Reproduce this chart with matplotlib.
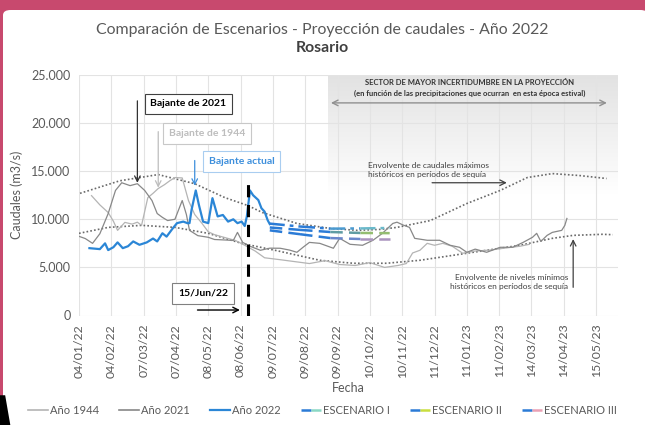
import numpy as np
import matplotlib
matplotlib.use('Agg')
import matplotlib.pyplot as plt
import matplotlib.dates as mdates
from matplotlib.patches import FancyBboxPatch, Polygon
from matplotlib.legend_handler import HandlerTuple
from matplotlib.lines import Line2D
from matplotlib.ticker import FuncFormatter, MultipleLocator
from matplotlib.colors import to_rgb

plt.rcParams['font.family'] = ['Lato', 'DejaVu Sans']

base = np.datetime64('2022-01-04')

# x values are days counted from 04/01/22
d1944 = [12, 20, 28, 33, 37, 44, 51, 56, 60, 66, 71, 76, 82, 87, 92, 99, 105, 111, 118, 124,
         130, 140, 150, 159, 169, 178, 193, 207, 221, 236, 250, 265, 279, 293, 306, 314, 320,
         327, 334, 341, 349, 358, 368, 380, 394, 408, 423, 432]
q1944 = [12460, 11500, 10700, 9800, 8850, 9680, 9500, 9700, 9370, 12250, 12700, 13200, 13600,
         14000, 14340, 14300, 11950, 10500, 9570, 8700, 8400, 8100, 7800, 7300, 6700, 6000,
         5800, 5600, 5400, 5700, 5300, 5200, 5500, 5000, 5200, 5400, 6500, 6780, 7500, 7300,
         7500, 7200, 6470, 6700, 6800, 7000, 7200, 7400]

d2021 = [0, 6, 13, 20, 28, 35, 41, 49, 56, 63, 70, 75, 80, 85, 92, 99, 103, 106, 114, 124, 130,
         140, 148, 152, 157, 164, 174, 183, 193, 202, 209, 215, 221, 231, 244, 250, 260, 272,
         282, 291, 301, 305, 311, 317, 322, 334, 346, 356, 365, 372, 380, 391, 404, 416, 426,
         435, 439, 443, 449, 454, 463, 466, 468]
q2021 = [8230, 8000, 7500, 8500, 10600, 13000, 13800, 13500, 13700, 13000, 11950, 10600, 10200,
         9870, 10000, 11950, 10500, 8850, 8300, 8130, 7900, 7850, 7800, 8640, 7600, 7200, 6780,
         7000, 6990, 6800, 6570, 7100, 7600, 7500, 6990, 8020, 7400, 7300, 7820, 8540, 9570,
         9700, 9400, 9160, 8020, 7820, 7820, 7300, 7090, 6570, 6900, 6570, 7090, 7090, 7600,
         8130, 8540, 7700, 8330, 8640, 8850, 9370, 10090]

d2022 = [10, 15, 20, 25, 28, 33, 37, 42, 47, 52, 58, 65, 71, 75, 80, 84, 90, 94, 100, 104, 106,
         108, 112, 115, 119, 124, 128, 133, 138, 143, 148, 152, 156, 159, 161, 164, 167, 172,
         175, 178, 181, 183]
q2022 = [7000, 6950, 6900, 7500, 6800, 7100, 7600, 7000, 7200, 7700, 7350, 7600, 8000, 7700,
         8550, 8200, 9070, 9600, 9760, 9600, 9600, 11000, 13000, 11500, 9760, 9600, 12200, 10300,
         10450, 9760, 10000, 9600, 9760, 9300, 10300, 13000, 12500, 12000, 11150, 10800, 9900,
         9500]

d_esc = [183, 212, 241, 270, 298]
q_esc1 = [9550, 9250, 9030, 9050, 9100]
q_esc2 = [9150, 8900, 8680, 8580, 8560]
q_esc3 = [8850, 8450, 8050, 7950, 7950]

d_max = [1, 39, 76, 111, 140, 162, 176, 209, 241, 267, 289, 305, 337, 372, 404, 430, 454, 480, 506]
q_max = [12700, 14000, 14650, 13700, 12250, 11430, 10700, 9570, 9050, 8850, 8950, 9160, 9870,
         11640, 13000, 14340, 14750, 14550, 14240]
d_min = [0, 28, 60, 92, 124, 156, 188, 231, 263, 295, 327, 359, 391, 423, 454, 474, 502, 512]
q_min = [8540, 9160, 9370, 9160, 8540, 7500, 6780, 5740, 5430, 5430, 5740, 6260, 6780, 7300,
         8020, 8330, 8440, 8400]

tick_days = np.arange(0, 497, 31)


def dt(days):
    return base + np.array(days).astype('timedelta64[D]')


fig = plt.figure(figsize=(6.45, 4.25), dpi=100, facecolor='#c8496e')
fig.patches.append(FancyBboxPatch((3 / 645, -0.05), 1.0, 1 - 10 / 425 + 0.05,
                                  boxstyle='round,pad=0,rounding_size=0.012',
                                  transform=fig.transFigure, facecolor='white',
                                  edgecolor='none', zorder=-5))
fig.patches.append(Polygon([(0, 0), (0.016, 0), (0.008, 0.07), (0, 0.07)],
                           closed=True, transform=fig.transFigure, facecolor='black',
                           edgecolor='none', zorder=-4))
ax = fig.add_axes([79 / 645, 1 - 315.5 / 425, (618 - 79) / 645, (315.5 - 75) / 425])
ax.set_facecolor('none')

x0, x1 = mdates.date2num(dt(0)), mdates.date2num(dt(517))
ax.set_xlim(dt(0), dt(517))
ax.set_ylim(0, 25000)

# shaded uncertainty sector
grad = np.linspace(0, 1, 100).reshape(-1, 1)
ax.imshow(grad, extent=[mdates.date2num(dt(239)), x1, 12500, 25000], aspect='auto',
          cmap=matplotlib.colors.LinearSegmentedColormap.from_list('g', ['white', '#e2e2e2']),
          origin='lower', zorder=0)

ax.grid(True, color='#e3e3e3', lw=0.8, zorder=1)
ax.set_axisbelow(True)
for s in ax.spines.values():
    s.set_visible(False)

ax.plot(dt(d_max), q_max, ls=(0, (1, 1.3)), color='#6a6a6a', lw=1.2, zorder=2)
ax.plot(dt(d_min), q_min, ls=(0, (1, 1.3)), color='#6a6a6a', lw=1.2, zorder=2)
ax.plot(dt(d1944), q1944, color='#b4b4b4', lw=0.9, zorder=3)
ax.plot(dt(d2021), q2021, color='#888888', lw=0.9, zorder=3)
ax.plot(dt(d2022), q2022, color='#2b86d6', lw=1.6, zorder=4)

blue = np.array(to_rgb('#2b7bd6'))
esc_styles = [(q_esc1, '#8ad8c4', (0, (6, 2, 1.5, 2))),
              (q_esc2, '#c9de3e', (0, (5, 2.5))),
              (q_esc3, '#eaa0b4', (0, (5, 2.5)))]
for q, endc, ls in esc_styles:
    endc = np.array(to_rgb(endc))
    n = len(d_esc) - 1
    for i in range(n):
        f = max(0, (i - 1) / (n - 1))
        c = blue * (1 - f) + endc * f
        ax.plot(dt(d_esc[i:i + 2]), q[i:i + 2], color=c, lw=1.8, ls=ls, zorder=4)

# 15/Jun/22 marker
ax.plot(dt([162, 162]), [0, 13800], color='black', lw=2.2, ls=(0, (4, 2.5)), zorder=5)

ax.set_xticks(dt(tick_days))
ax.xaxis.set_major_formatter(mdates.DateFormatter('%d/%m/%y'))
ax.yaxis.set_major_locator(MultipleLocator(5000))
ax.yaxis.set_major_formatter(FuncFormatter(lambda v, p: f'{int(v):,}'.replace(',', '.')))
ax.tick_params(axis='x', rotation=90, labelsize=8.8, colors='#595959', length=0, pad=6)
ax.tick_params(axis='y', labelsize=9, colors='#595959', length=0, pad=6)
ax.set_xlabel('Fecha', fontsize=9, color='#595959', labelpad=3)
ax.set_ylabel('Caudales (m3/s)', fontsize=9, color='#595959', labelpad=6)

fig.text(0.5, 1 - 30 / 425, 'Comparación de Escenarios - Proyección de caudales - Año 2022',
         ha='center', va='center', fontsize=11.4, color='#595959')
fig.text(0.5, 1 - 48 / 425, 'Rosario', ha='center', va='center', fontsize=11.4,
         color='#404040', weight='bold')

# annotations
ax.text(dt(105), 22000, 'Bajante de 2021', ha='center', va='center', fontsize=7.5,
        weight='bold', color='black',
        bbox=dict(boxstyle='square,pad=0.55', fc='white', ec='#404040', lw=0.8), zorder=6)
ax.annotate('', xy=(dt(56), 13500), xytext=(dt(56), 22600),
            arrowprops=dict(arrowstyle='->', color='#333333', lw=0.9), zorder=6)
ax.text(dt(123), 18900, 'Bajante de 1944', ha='center', va='center', fontsize=7.5,
        weight='bold', color='#bdbdbd',
        bbox=dict(boxstyle='square,pad=0.55', fc='white', ec='#c8c8c8', lw=0.8), zorder=6)
ax.annotate('', xy=(dt(76), 13000), xytext=(dt(76), 19400),
            arrowprops=dict(arrowstyle='->', color='#bdbdbd', lw=0.9), zorder=6)
ax.text(dt(156), 16000, 'Bajante actual', ha='center', va='center', fontsize=7.5,
        weight='bold', color='#3d8fdc',
        bbox=dict(boxstyle='square,pad=0.55', fc='white', ec='#a9cdf0', lw=0.8), zorder=6)
ax.annotate('', xy=(dt(111), 13200), xytext=(dt(111), 16400),
            arrowprops=dict(arrowstyle='->', color='#3d8fdc', lw=0.9), zorder=6)
ax.text(dt(119), 2300, '15/Jun/22', ha='center', va='center', fontsize=7.5,
        weight='bold', color='black',
        bbox=dict(boxstyle='square,pad=0.55', fc='white', ec='#808080', lw=0.8), zorder=6)
ax.annotate('', xy=(dt(157), 570), xytext=(dt(111), 570),
            arrowprops=dict(arrowstyle='->', color='black', lw=1.0), zorder=6)

ax.text(dt(375), 24270, 'SECTOR DE MAYOR INCERTIDUMBRE EN LA PROYECCIÓN', ha='center',
        va='center', fontsize=5.5, weight='bold', color='#333333', zorder=6)
ax.text(dt(375), 23130, '(en función de las precipitaciones que ocurran  en esta época estival)',
        ha='center', va='center', fontsize=5.5, weight='bold', color='#333333', zorder=6)
ax.annotate('', xy=(dt(509), 22100), xytext=(dt(239), 22100),
            arrowprops=dict(arrowstyle='<->', color='#909090', lw=1.0), zorder=6)

ax.text(dt(277), 15150, 'Envolvente de caudales máximos\nhistóricos en períodos de sequía',
        ha='left', va='center', fontsize=6, color='#404040', linespacing=1.3, zorder=6)
ax.annotate('', xy=(dt(413), 13800), xytext=(dt(336), 13800),
            arrowprops=dict(arrowstyle='->', color='#404040', lw=0.9), zorder=6)
ax.text(dt(469), 3470, 'Envolvente de niveles mínimos\nhistóricos en períodos de sequía',
        ha='right', va='center', fontsize=6, color='#404040', linespacing=1.3, zorder=6)
ax.annotate('', xy=(dt(474), 8230), xytext=(dt(474), 2640),
            arrowprops=dict(arrowstyle='->', color='#404040', lw=0.9), zorder=6)

# legend
h1944 = Line2D([], [], color='#b4b4b4', lw=1.2)
h2021 = Line2D([], [], color='#888888', lw=1.2)
h2022 = Line2D([], [], color='#2b86d6', lw=1.6)
hs = []
for q, endc, ls in esc_styles:
    hs.append((Line2D([], [], color='#2b7bd6', lw=1.8, ls=ls),
               Line2D([], [], color=endc, lw=1.8, ls=ls)))
fig.legend([h1944, h2021, h2022] + hs,
           ['Año 1944', 'Año 2021', 'Año 2022', 'ESCENARIO I', 'ESCENARIO II', 'ESCENARIO III'],
           handler_map={tuple: HandlerTuple(ndivide=None, pad=0)},
           loc='center', bbox_to_anchor=(0.5, 1 - 410 / 425), ncol=6, frameon=False,
           fontsize=8, labelcolor='#595959', handlelength=1.8, handletextpad=0.2,
           columnspacing=1.8)

fig.savefig('out.png', dpi=100, facecolor=fig.get_facecolor())
